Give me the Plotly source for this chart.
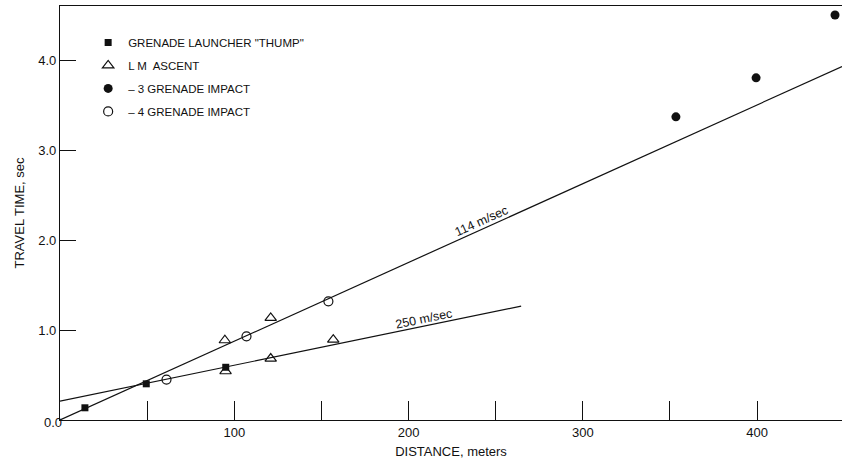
import plotly.graph_objects as go

# Seismic refraction travel times (distance in m, time in s)
thump_x = [14.3, 49.5, 95.1]
thump_y = [0.136, 0.403, 0.587]

lm_ascent_x = [94.6, 95.0, 120.9, 120.9, 156.8]
lm_ascent_y = [0.888, 0.543, 1.137, 0.684, 0.895]

grenade3_x = [353.4, 399.4, 444.7]
grenade3_y = [3.376, 3.81, 4.51]

grenade4_x = [61.1, 107.0, 154.0]
grenade4_y = [0.45, 0.932, 1.321]

# Fitted velocity lines
fast_velocity = 114.0      # m/sec, through origin
fast_x_end = 448.7
slow_velocity = 250.0      # m/sec
slow_intercept = 0.21      # sec
slow_x_end = 264.6

x_tick_vals = [100, 200, 300, 400]
x_tick_text = ["100", "200", "300", "400"]
y_tick_vals = [1.0, 2.0, 3.0, 4.0]
y_tick_text = ["1.0", "2.0", "3.0", "4.0"]

FONT = "Liberation Sans, Arial, sans-serif"
INK = "#111111"

fig = go.Figure()

fast_line_x = [0.0, fast_x_end]
fast_line_y = [x / fast_velocity for x in fast_line_x]
slow_line_x = [0.0, slow_x_end]
slow_line_y = [slow_intercept + x / slow_velocity for x in slow_line_x]

fig.add_trace(go.Scatter(x=fast_line_x, y=fast_line_y, mode="lines",
                         line=dict(color=INK, width=1.2), showlegend=False,
                         hoverinfo="skip"))
fig.add_trace(go.Scatter(x=slow_line_x, y=slow_line_y, mode="lines",
                         line=dict(color=INK, width=1.2), showlegend=False,
                         hoverinfo="skip"))

fig.add_trace(go.Scatter(
    x=thump_x, y=thump_y, mode="markers", name='GRENADE LAUNCHER "THUMP"',
    legendgroup="a",
    marker=dict(symbol="square", size=7, color=INK)))
fig.add_trace(go.Scatter(
    x=lm_ascent_x, y=lm_ascent_y, mode="markers", name="L M  ASCENT",
    legendgroup="b",
    marker=dict(symbol="triangle-up-open", size=10, color=INK,
                line=dict(width=1.2, color=INK))))
fig.add_trace(go.Scatter(
    x=grenade3_x, y=grenade3_y, mode="markers", name="– 3 GRENADE IMPACT",
    legendgroup="c",
    marker=dict(symbol="circle", size=9, color=INK)))
fig.add_trace(go.Scatter(
    x=grenade4_x, y=grenade4_y, mode="markers", name="– 4 GRENADE IMPACT",
    legendgroup="d",
    marker=dict(symbol="circle-open", size=9, color=INK,
                line=dict(width=1.2, color=INK))))

annotations = [
    dict(x=242, y=2.22, xref="x", yref="y", text="114 m/sec", showarrow=False,
         textangle=-24.3, font=dict(family=FONT, size=12.5, color=INK)),
    dict(x=208.8, y=1.125, xref="x", yref="y", text="250 m/sec", showarrow=False,
         textangle=-11.6, font=dict(family=FONT, size=12.5, color=INK)),
    dict(x=-0.023, y=-0.030, xref="paper", yref="paper", text="0.0",
         showarrow=False, font=dict(family=FONT, size=13, color=INK)),
]

fig.update_layout(
    width=842, height=468,
    margin=dict(l=60, r=0, t=6, b=48),
    paper_bgcolor="white", plot_bgcolor="white",
    font=dict(family=FONT, color=INK),
    showlegend=True,
    legend=dict(x=0.036, y=0.947, xanchor="left", yanchor="top",
                bgcolor="rgba(0,0,0,0)", font=dict(family=FONT, size=11.5, color=INK),
                tracegroupgap=4, itemwidth=30),
    annotations=annotations,
    xaxis=dict(
        range=[0, 448.7], showgrid=False, zeroline=False,
        showline=True, linecolor=INK, linewidth=1.3, mirror=True,
        ticks="inside", ticklen=19, tickwidth=1.2, tickcolor=INK,
        tickvals=x_tick_vals, ticktext=x_tick_text,
        minor=dict(tickvals=[50, 150, 250, 350], ticks="inside", ticklen=19,
                   tickwidth=1.2, tickcolor=INK),
        tickfont=dict(family=FONT, size=13, color=INK),
        title=dict(text="DISTANCE, meters", standoff=8,
                   font=dict(family=FONT, size=13, color=INK)),
    ),
    yaxis=dict(
        range=[0, 4.61], showgrid=False, zeroline=False,
        showline=True, linecolor=INK, linewidth=1.3,
        ticks="inside", ticklen=16, tickwidth=1.2, tickcolor=INK,
        tickvals=y_tick_vals, ticktext=y_tick_text,
        tickfont=dict(family=FONT, size=13, color=INK),
        title=dict(text="TRAVEL TIME, sec", standoff=10,
                   font=dict(family=FONT, size=13, color=INK)),
    ),
)

fig.write_html("out.html")
